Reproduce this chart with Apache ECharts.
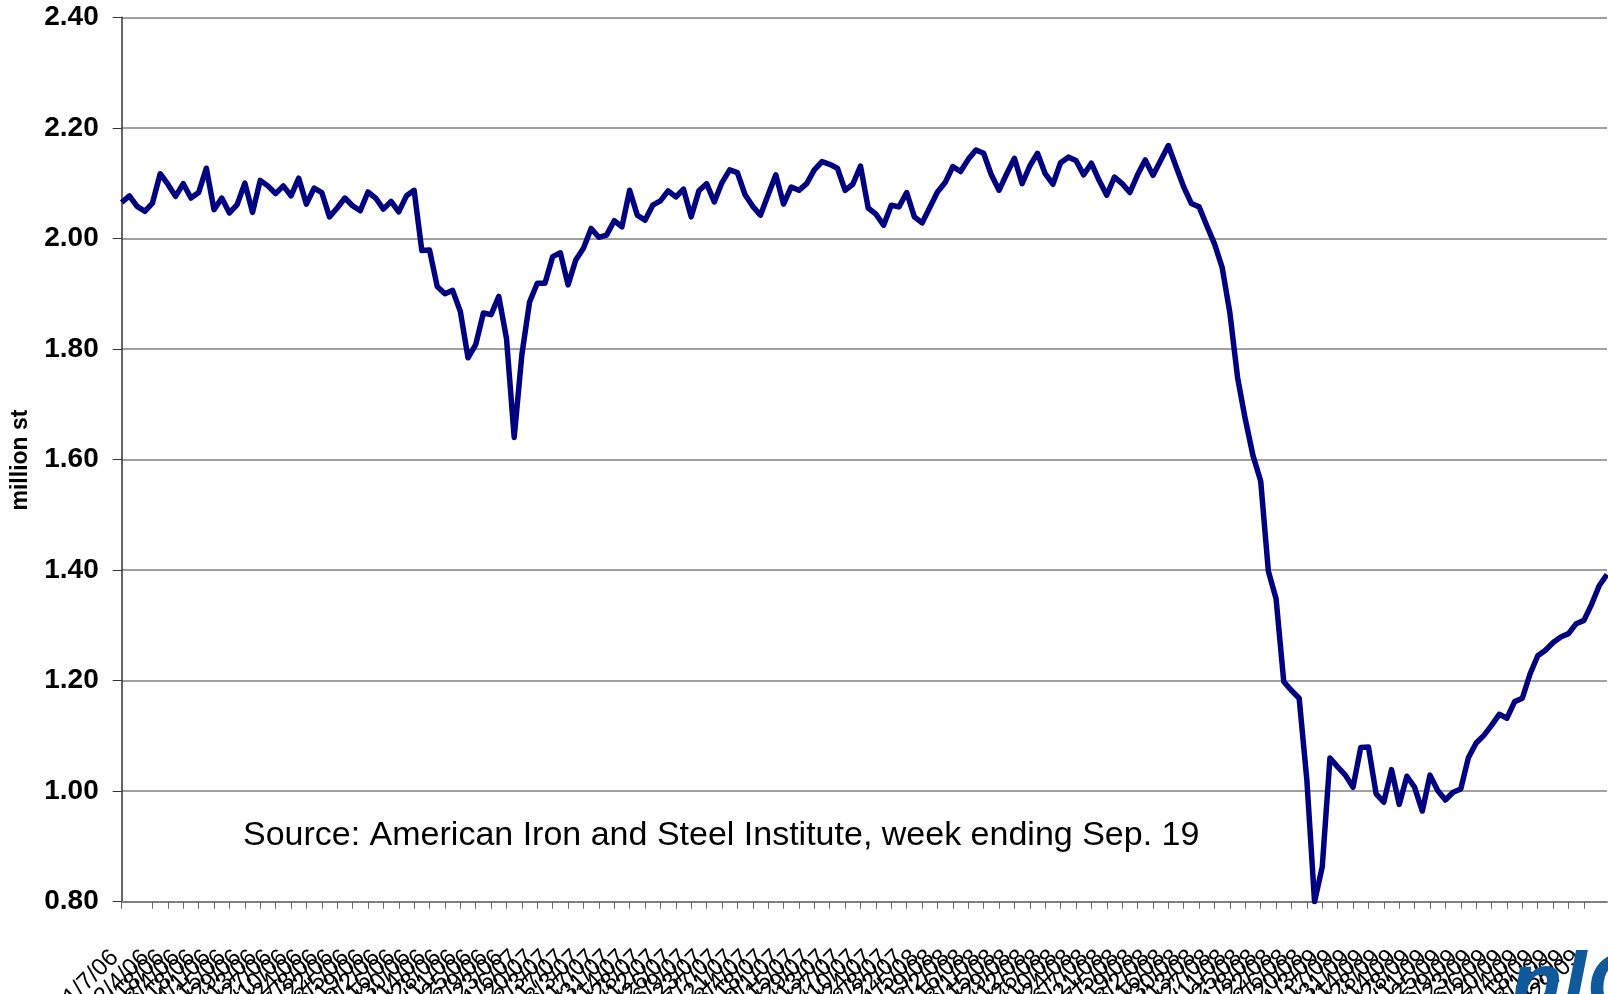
<!DOCTYPE html>
<html>
<head>
<meta charset="utf-8">
<title>Raw steel production</title>
<script src="https://cdn.jsdelivr.net/npm/echarts@6/dist/echarts.min.js"></script>
<style>
  html, body { margin: 0; padding: 0; background: #fff; }
  #main { width: 1608px; height: 994px; }
</style>
</head>
<body>
<div id="main"></div>
<script>
// week ending dates
const weeks2006 = ['1/7/06','1/14/06','1/21/06','1/28/06','2/4/06','2/11/06','2/18/06','2/25/06','3/4/06','3/11/06','3/18/06','3/25/06','4/1/06','4/8/06','4/15/06','4/22/06','4/29/06','5/6/06','5/13/06','5/20/06','5/27/06','6/3/06','6/10/06','6/17/06','6/24/06','7/1/06','7/8/06','7/15/06','7/22/06','7/29/06','8/5/06','8/12/06','8/19/06','8/26/06','9/2/06','9/9/06','9/16/06','9/23/06','9/30/06','10/7/06','10/14/06','10/21/06','10/28/06','11/4/06','11/11/06','11/18/06','11/25/06','12/2/06','12/9/06','12/16/06','12/23/06','12/30/06'];
const weeks2007 = ['1/6/07','1/13/07','1/20/07','1/27/07','2/3/07','2/10/07','2/17/07','2/24/07','3/3/07','3/10/07','3/17/07','3/24/07','3/31/07','4/7/07','4/14/07','4/21/07','4/28/07','5/5/07','5/12/07','5/19/07','5/26/07','6/2/07','6/9/07','6/16/07','6/23/07','6/30/07','7/7/07','7/14/07','7/21/07','7/28/07','8/4/07','8/11/07','8/18/07','8/25/07','9/1/07','9/8/07','9/15/07','9/22/07','9/29/07','10/6/07','10/13/07','10/20/07','10/27/07','11/3/07','11/10/07','11/17/07','11/24/07','12/1/07','12/8/07','12/15/07','12/22/07','12/29/07'];
const weeks2008 = ['1/5/08','1/12/08','1/19/08','1/26/08','2/2/08','2/9/08','2/16/08','2/23/08','3/1/08','3/8/08','3/15/08','3/22/08','3/29/08','4/5/08','4/12/08','4/19/08','4/26/08','5/3/08','5/10/08','5/17/08','5/24/08','5/31/08','6/7/08','6/14/08','6/21/08','6/28/08','7/5/08','7/12/08','7/19/08','7/26/08','8/2/08','8/9/08','8/16/08','8/23/08','8/30/08','9/6/08','9/13/08','9/20/08','9/27/08','10/4/08','10/11/08','10/18/08','10/25/08','11/1/08','11/8/08','11/15/08','11/22/08','11/29/08','12/6/08','12/13/08','12/20/08','12/27/08'];
const weeks2009 = ['1/3/09','1/10/09','1/17/09','1/24/09','1/31/09','2/7/09','2/14/09','2/21/09','2/28/09','3/7/09','3/14/09','3/21/09','3/28/09','4/4/09','4/11/09','4/18/09','4/25/09','5/2/09','5/9/09','5/16/09','5/23/09','5/30/09','6/6/09','6/13/09','6/20/09','6/27/09','7/4/09','7/11/09','7/18/09','7/25/09','8/1/09','8/8/09','8/15/09','8/22/09','8/29/09','9/5/09','9/12/09','9/19/09'];

// weekly raw steel production, million st
const prod2006 = [2.065,2.077,2.058,2.049,2.064,2.117,2.098,2.076,2.099,2.073,2.083,2.127,2.052,2.073,2.046,2.061,2.100,2.047,2.105,2.095,2.081,2.095,2.077,2.109,2.062,2.091,2.083,2.039,2.055,2.073,2.059,2.050,2.084,2.073,2.053,2.067,2.048,2.077,2.087,1.978,1.979,1.913,1.900,1.906,1.868,1.784,1.808,1.865,1.862,1.895,1.819,1.640];
const prod2007 = [1.790,1.885,1.919,1.919,1.967,1.974,1.916,1.961,1.982,2.018,2.002,2.006,2.032,2.021,2.087,2.042,2.033,2.060,2.068,2.086,2.075,2.089,2.039,2.086,2.099,2.066,2.101,2.124,2.119,2.079,2.058,2.042,2.079,2.115,2.062,2.093,2.087,2.099,2.124,2.139,2.134,2.127,2.087,2.098,2.131,2.055,2.044,2.024,2.060,2.057,2.083,2.039];
const prod2008 = [2.028,2.056,2.084,2.101,2.130,2.121,2.143,2.160,2.154,2.115,2.087,2.117,2.145,2.099,2.131,2.154,2.117,2.098,2.137,2.147,2.141,2.115,2.136,2.105,2.078,2.111,2.099,2.083,2.115,2.142,2.114,2.141,2.168,2.130,2.093,2.063,2.057,2.023,1.990,1.947,1.865,1.748,1.673,1.607,1.561,1.398,1.348,1.198,1.182,1.168,1.020,0.800];
const prod2009 = [0.863,1.060,1.044,1.029,1.007,1.079,1.080,0.995,0.980,1.039,0.976,1.027,1.007,0.964,1.029,1.001,0.984,0.998,1.004,1.061,1.087,1.101,1.119,1.139,1.132,1.162,1.168,1.212,1.245,1.255,1.269,1.279,1.285,1.303,1.309,1.338,1.372,1.392];

const yTicks = [0.8, 1.0, 1.2, 1.4, 1.6, 1.8, 2.0, 2.2, 2.4];

const weeks = weeks2006.concat(weeks2007, weeks2008, weeks2009);
const production = prod2006.concat(prod2007, prod2008, prod2009);

const font = "'Liberation Sans', Arial, sans-serif";

// every other week gets a tick and a label
function everyOther(index) {
    return index % 2 === 0;
}

let option = {
    animation: false,
    backgroundColor: '#fff',
    grid: {
        left: 121.7,
        right: 1,
        top: 17.3,
        bottom: 92.3,
        containLabel: false,
        outerBoundsMode: 'none'
    },
    xAxis: {
        type: 'category',
        data: weeks,
        boundaryGap: false,
        axisLine: { lineStyle: { color: '#808080', width: 2 } },
        axisTick: { show: true, interval: everyOther, length: 7, lineStyle: { color: '#666', width: 1 } },
        axisLabel: {
            interval: everyOther,
            showMinLabel: true,
            showMaxLabel: false,
            hideOverlap: false,
            rotate: 45,
            margin: 45,
            padding: [0, 10, 0, 0],
            color: '#000',
            fontFamily: font,
            fontSize: 24
        },
        splitLine: { show: false }
    },
    yAxis: {
        type: 'value',
        min: yTicks[0],
        max: yTicks[yTicks.length - 1],
        interval: 0.2,
        axisLine: { show: true, lineStyle: { color: '#333', width: 1.5 } },
        axisTick: { show: true, length: 9, lineStyle: { color: '#333' } },
        axisLabel: {
            margin: 23,
            color: '#000',
            fontFamily: font,
            fontWeight: 'bold',
            fontSize: 28,
            formatter: function (v) { return v.toFixed(2); }
        },
        splitLine: { show: true, lineStyle: { color: '#808080', width: 1.5 } }
    },
    graphic: [{
        type: 'text',
        x: 21,
        y: 460,
        rotation: Math.PI / 2,
        style: {
            text: 'million st',
            font: "bold 23px " + font,
            fill: '#000',
            align: 'center',
            verticalAlign: 'middle'
        }
    }, {
        type: 'text',
        x: 243,
        y: 836,
        style: {
            text: 'Source: American Iron and Steel Institute, week ending Sep. 19',
            font: "34px " + font,
            fill: '#000',
            align: 'left',
            verticalAlign: 'middle'
        }
    }, {
        type: 'text',
        x: 1510,
        y: 945,
        z: 10,
        style: {
            text: 'nlC',
            font: "italic bold 86px " + font,
            fill: '#0f5a9a',
            align: 'left',
            verticalAlign: 'top'
        }
    }],
    series: [{
        type: 'line',
        data: production,
        symbol: 'none',
        lineStyle: { color: '#000080', width: 5.5, join: 'round' }
    }]
};

let myChart = echarts.init(document.getElementById('main'));
myChart.setOption(option);
</script>
</body>
</html>
